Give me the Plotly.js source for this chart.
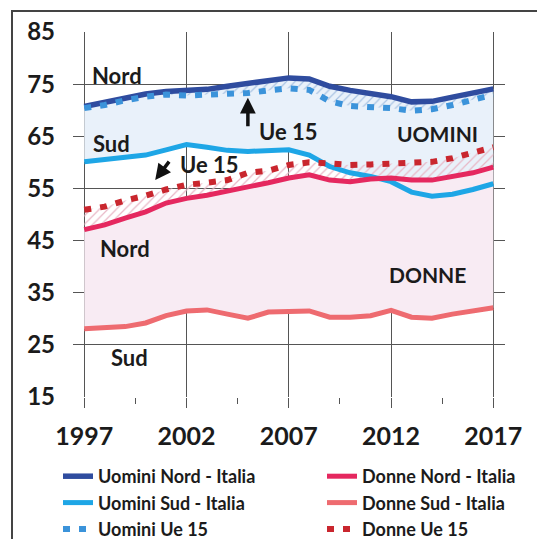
<!DOCTYPE html>
<html>
<head>
<meta charset="utf-8">
<script src="https://cdn.plot.ly/plotly-3.0.1.min.js"></script>
<style>
html,body{margin:0;padding:0;background:#fff;}
#chart{width:537px;height:539px;}
</style>
</head>
<body>
<div id="chart"></div>
<script>
// ---- data ----
var years = [1997,1998,1999,2000,2001,2002,2003,2004,2005,2006,2007,2008,2009,2010,2011,2012,2013,2014,2015,2016,2017];
var uominiNord = [70.7,71.5,72.3,73.1,73.6,73.8,74.0,74.6,75.1,75.7,76.2,76.0,74.6,73.8,73.3,72.6,71.6,71.7,72.5,73.3,74.1];
var uominiSud  = [60.1,60.5,61.0,61.4,62.4,63.4,62.9,62.3,62.1,62.3,62.4,61.4,59.2,58.0,57.3,56.3,54.3,53.5,53.9,54.8,55.9];
var uominiUe15 = [70.4,71.0,71.9,72.6,73.0,72.8,73.0,73.1,73.3,73.8,74.2,73.9,71.7,70.8,70.6,70.4,69.9,70.2,71.0,72.0,73.0];
var donneNord  = [47.1,48.0,49.3,50.5,52.2,53.1,53.7,54.4,55.3,56.1,57.0,57.6,56.6,56.3,56.8,57.0,56.6,56.6,57.3,58.0,59.1];
var donneSud   = [28.1,28.3,28.5,29.2,30.6,31.5,31.7,30.9,30.1,31.3,31.3,31.5,30.3,30.3,30.6,31.6,30.3,30.1,30.9,31.5,32.1];
var donneUe15  = [50.9,51.5,52.7,53.6,54.8,55.7,56.1,56.6,58.0,58.4,59.5,60.0,59.8,59.5,59.6,59.8,59.9,60.1,60.8,61.8,62.9];
var seriesNames = ['Uomini Nord - Italia','Uomini Sud - Italia','Uomini Ue 15','Donne Nord - Italia','Donne Sud - Italia','Donne Ue 15'];
var xTickVals = [1997,2002,2007,2012,2017];
var yTickVals = [15,25,35,45,55,65,75,85];

// ---- styles ----
var C = {
  uNord:'#2f4c9f', uSud:'#1ea6e6', uUe:'#3b93da',
  dNord:'#e5285f', dSud:'#ee6b70', dUe:'#c9262e',
  fillU:'#e9f1fa', fillD:'#f8ebf3'
};
var DOT = '7px,9px';

function band(y, fill, color, pattern){
  var t = {x:years, y:y, type:'scatter', mode:'lines', line:{width:0,color:'rgba(0,0,0,0)'},
           showlegend:false, hoverinfo:'skip'};
  if (fill){ t.fill='tonexty'; t.fillcolor=color; if(pattern) t.fillpattern=pattern; }
  return t;
}
function line(y, name, color, width, dash, legend){
  return {x:years, y:y, type:'scatter', mode:'lines', name:name,
          line:{color:color, width:width, dash:dash||'solid', shape:'linear'},
          legend:legend, hoverinfo:'skip'};
}

var traces = [
  band(uominiSud,false),
  band(uominiNord,true,C.fillU),
  band(uominiUe15,false),
  band(uominiNord,true,'rgba(0,0,0,0)',{shape:'/',fgcolor:'#a9c3e3',bgcolor:'rgba(0,0,0,0)',size:6,solidity:0.2}),
  band(donneSud,false),
  band(donneNord,true,C.fillD),
  band(donneNord,false),
  band(donneUe15,true,'rgba(0,0,0,0)',{shape:'/',fgcolor:'#e8b7c6',bgcolor:'rgba(0,0,0,0)',size:6,solidity:0.2}),
  line(uominiNord, seriesNames[0], C.uNord, 5.5, null, 'legend'),
  line(uominiSud,  seriesNames[1], C.uSud, 5, null, 'legend'),
  line(donneNord,  seriesNames[3], C.dNord, 5, null, 'legend2'),
  line(donneSud,   seriesNames[4], C.dSud, 5, null, 'legend2'),
  line(uominiUe15, seriesNames[2], C.uUe, 6, DOT, 'legend'),
  line(donneUe15,  seriesNames[5], C.dUe, 6, DOT, 'legend2')
];

var txt = '#1b1b1b';
function lab(x,y,t,size){
  return {x:x,y:y,xref:'x',yref:'y',text:t,showarrow:false,
          font:{family:'Lato',size:size||22,color:txt,weight:'bold'}};
}
var annotations = [
  lab(1998.62,76.6,'Nord'),
  lab(1998.31,63.7,'Sud'),
  lab(2007.0,65.85,'Ue 15'),
  lab(2014.27,65.5,'UOMINI',21),
  lab(2003.1,59.5,'Ue 15'),
  lab(1999.0,43.4,'Nord'),
  lab(2013.78,38.4,'DONNE',21),
  lab(1999.23,22.6,'Sud'),
  {x:2005.0,y:72.4,xref:'x',yref:'y',text:'',showarrow:true,ax:0,ay:30,
   arrowhead:2,arrowsize:0.9,arrowwidth:3.5,arrowcolor:'#111',standoff:0},
  {x:2000.47,y:56.6,xref:'x',yref:'y',text:'',showarrow:true,ax:15,ay:-20,
   arrowhead:2,arrowsize:0.9,arrowwidth:3.5,arrowcolor:'#111',standoff:0}
];

var legFont = {family:'Lato',size:18,color:txt,weight:'bold'};
var legTop = 1-(458-32)/365;
var layout = {
  width:537, height:539,
  margin:{l:73,r:32,t:32,b:142,autoexpand:false},
  paper_bgcolor:'#fff', plot_bgcolor:'#fff',
  font:{family:'Lato'},
  xaxis:{
    range:[1996.45,2017.57], tickvals:xTickVals, ticktext:xTickVals.map(String),
    showgrid:true, gridcolor:'#555', gridwidth:1, zeroline:false, showline:false,
    ticks:'outside', ticklen:10, tickcolor:'#555', tickwidth:1,
    minor:{tickvals:[1999.5,2004.5,2009.5,2014.5], ticks:'outside', ticklen:6, tickcolor:'#555', showgrid:false},
    tickfont:{family:'Lato',size:25,color:txt,weight:'bold'}, ticklabelstandoff:7, automargin:false
  },
  yaxis:{
    range:[15,85], tickvals:yTickVals, ticktext:yTickVals.map(String),
    showgrid:true, gridcolor:'#555', gridwidth:1, zeroline:false, showline:false,
    ticks:'', tickfont:{family:'Lato',size:24,color:txt,weight:'bold'}, ticklabelstandoff:17, automargin:false
  },
  showlegend:true,
  legend:{x:(58-73)/432, xanchor:'left', y:legTop, yanchor:'top', font:legFont,
          bgcolor:'rgba(0,0,0,0)', borderwidth:0, tracegroupgap:0, traceorder:'normal'},
  legend2:{x:(322-73)/432, xanchor:'left', y:legTop, yanchor:'top', font:legFont,
          bgcolor:'rgba(0,0,0,0)', borderwidth:0, tracegroupgap:0, traceorder:'normal'},
  annotations:annotations,
  shapes:[{type:'rect',xref:'paper',yref:'paper',x0:(12-73)/432,x1:1.09,y0:-0.5,y1:1+(32-11)/365,
           line:{color:'#444',width:2},fillcolor:'rgba(0,0,0,0)',layer:'below'}]
};

Plotly.newPlot('chart', traces, layout, {staticPlot:true, displayModeBar:false});
</script>
</body>
</html>
